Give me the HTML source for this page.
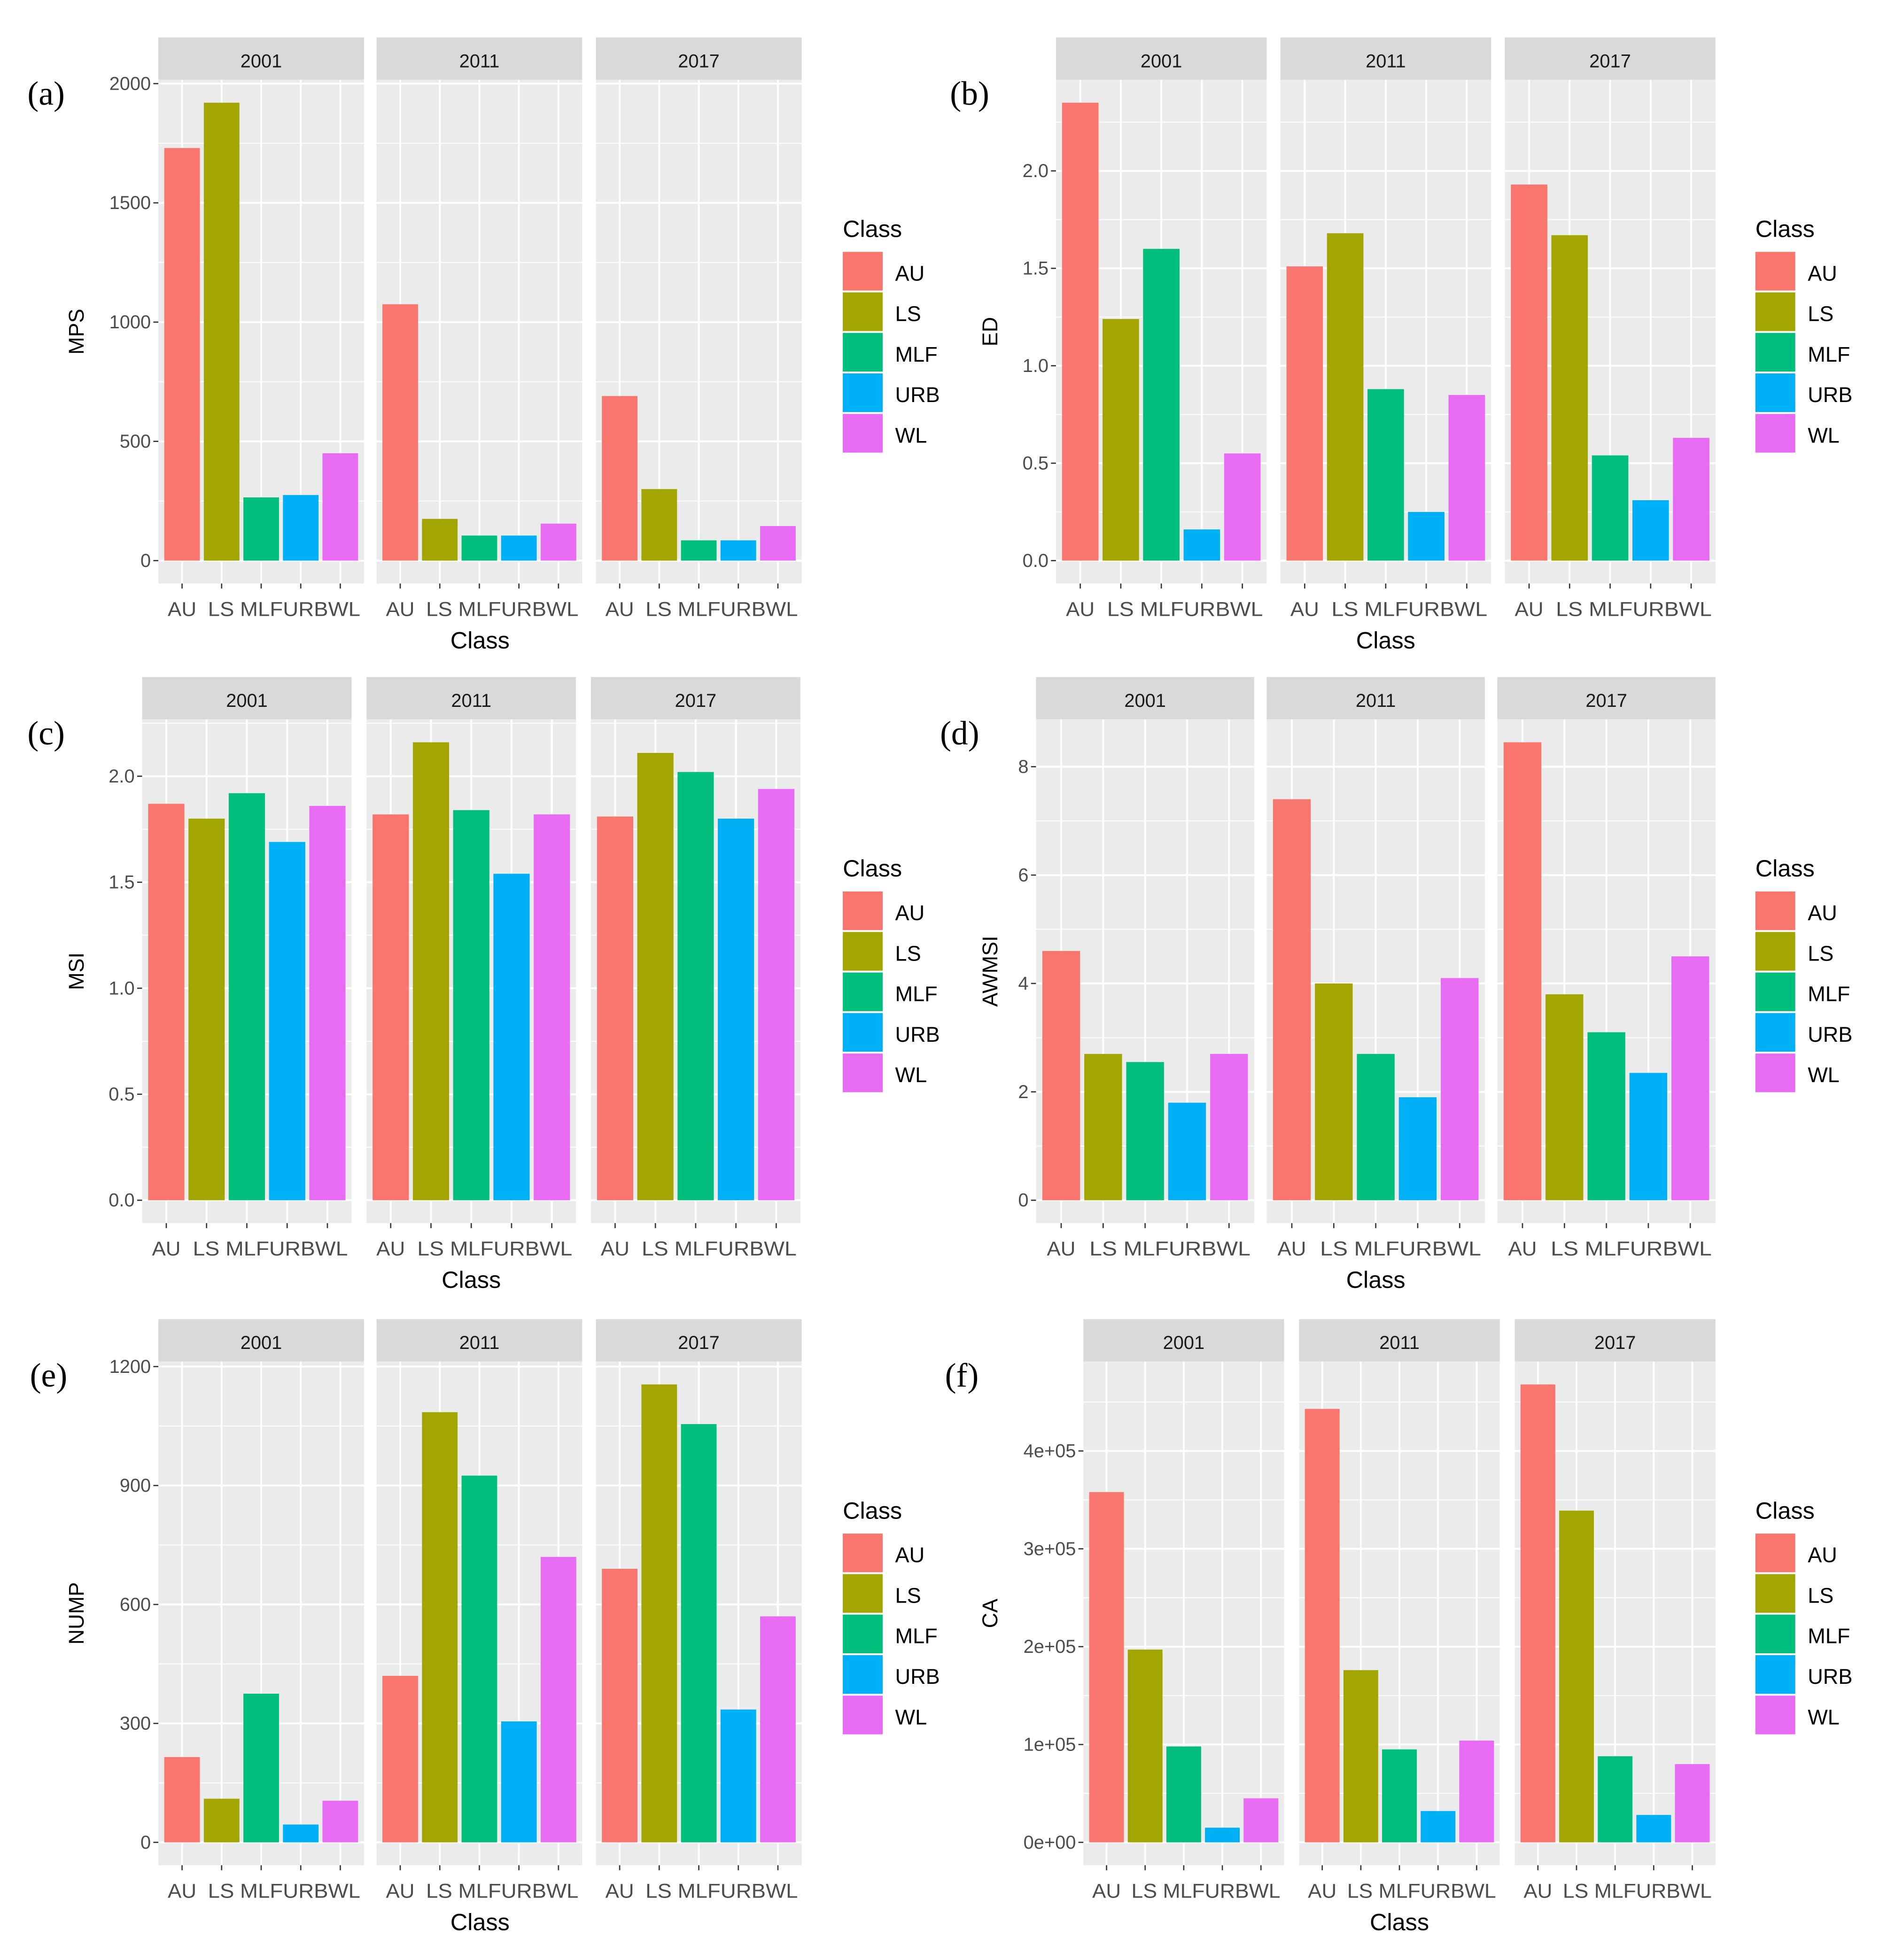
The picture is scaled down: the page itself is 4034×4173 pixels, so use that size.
<!DOCTYPE html>
<html><head><meta charset="utf-8"><style>
html,body{margin:0;padding:0;background:#fff;}
svg{display:block;}
text{font-family:"Liberation Sans",sans-serif;}
text.serif{font-family:"Liberation Serif",serif;}
</style></head><body>
<svg id="chart" width="4034" height="4173" viewBox="0 0 1520 1572" preserveAspectRatio="none" xmlns="http://www.w3.org/2000/svg"></svg>
<script>
const categories = ["AU","LS","MLF","URB","WL"];
const years = ["2001","2011","2017"];
const colors = ["#F8766D","#A3A500","#00BF7D","#00B0F6","#E76BF3"];
// values by year for each metric
const mpsValues = [[1730,1920,265,275,450],[1075,175,105,105,155],[690,300,85,85,145]];
const edValues = [[2.35,1.24,1.60,0.16,0.55],[1.51,1.68,0.88,0.25,0.85],[1.93,1.67,0.54,0.31,0.63]];
const msiValues = [[1.87,1.80,1.92,1.69,1.86],[1.82,2.16,1.84,1.54,1.82],[1.81,2.11,2.02,1.80,1.94]];
const awmsiValues = [[4.6,2.7,2.55,1.8,2.7],[7.4,4.0,2.7,1.9,4.1],[8.45,3.8,3.1,2.35,4.5]];
const numpValues = [[215,110,375,45,105],[420,1085,925,305,720],[690,1155,1055,335,570]];
const caValues = [[358000,197000,98000,15000,45000],[443000,176000,95000,32000,104000],[468000,339000,88000,28000,80000]];
const mpsTicks = [0,500,1000,1500,2000];
const mpsTickLabels = ["0","500","1000","1500","2000"];
const edTicks = [0,0.5,1,1.5,2];
const edTickLabels = ["0.0","0.5","1.0","1.5","2.0"];
const msiTicks = [0,0.5,1,1.5,2];
const msiTickLabels = ["0.0","0.5","1.0","1.5","2.0"];
const awmsiTicks = [0,2,4,6,8];
const awmsiTickLabels = ["0","2","4","6","8"];
const numpTicks = [0,300,600,900,1200];
const numpTickLabels = ["0","300","600","900","1200"];
const caTicks = [0,100000,200000,300000,400000];
const caTickLabels = ["0e+00","1e+05","2e+05","3e+05","4e+05"];

const panels = [
 {id:"a",title:"MPS",vals:mpsValues,ticks:mpsTicks,tl:mpsTickLabels,max:1920,top:30,facX:[127,302,478],facW:165,letterX:22,titleX:65,legX:676},
 {id:"b",title:"ED",vals:edValues,ticks:edTicks,tl:edTickLabels,max:2.35,top:30,facX:[847,1027,1207],facW:169,letterX:762,titleX:798,legX:1408},
 {id:"c",title:"MSI",vals:msiValues,ticks:msiTicks,tl:msiTickLabels,max:2.16,top:543,facX:[114,294,474],facW:168,letterX:22,titleX:65,legX:676},
 {id:"d",title:"AWMSI",vals:awmsiValues,ticks:awmsiTicks,tl:awmsiTickLabels,max:8.45,top:543,facX:[831,1016,1201],facW:175,letterX:754,titleX:798,legX:1408},
 {id:"e",title:"NUMP",vals:numpValues,ticks:numpTicks,tl:numpTickLabels,max:1155,top:1058,facX:[127,302,478],facW:165,letterX:24,titleX:65,legX:676},
 {id:"f",title:"CA",vals:caValues,ticks:caTicks,tl:caTickLabels,max:468000,top:1058,facX:[869,1042,1215],facW:161,letterX:758,titleX:798,legX:1408}
];
const NS="http://www.w3.org/2000/svg";
const svg=document.getElementById('chart');
function mk(tag,attrs,parent,txt){const e=document.createElementNS(NS,tag);for(const k in attrs)e.setAttribute(k,attrs[k]);if(txt!==undefined)e.textContent=txt;(parent||svg).appendChild(e);return e;}

panels.forEach(p=>{
  const g=mk('g',{});
  
  
  const stripH=34, plotTop=p.top+stripH, plotBot=p.top+438;
  const innerH=plotBot-plotTop;
  const span=p.max*1.1;
  const y=v=>plotBot-(v+p.max*0.05)/span*innerH;
  const letter=mk('text',{class:'serif',x:p.letterX,y:p.top+54,'font-size':27,fill:'#000'},g,'('+p.id+')');
  
  
  const step=p.ticks[1]-p.ticks[0];
  p.vals.forEach((vals,fi)=>{
    const x0=p.facX[fi], W=p.facW, unit=W/5.2;
    const xc=i=>x0+(0.6+i)*unit;
    const strip=mk('rect',{x:x0,y:p.top,width:W,height:stripH,fill:'#D9D9D9'},g);
    
    
    const st=mk('text',{x:x0+W/2,y:p.top+24,'text-anchor':'middle','font-size':15,fill:'#1A1A1A'},g,years[fi]);
    
    
    const bg=mk('rect',{x:x0,y:plotTop,width:W,height:innerH,fill:'#EBEBEB'},g);
    
    
    for(let t=-step/2;t<=p.max*1.06;t+=step){const yy=y(t);if(yy>plotTop&&yy<plotBot){const l=mk('line',{x1:x0,x2:x0+W,y1:yy,y2:yy,stroke:'#fff','stroke-width':0.7},g);}}
    p.ticks.forEach(t=>{const yy=y(t);if(yy>=plotTop){const l=mk('line',{x1:x0,x2:x0+W,y1:yy,y2:yy,stroke:'#fff','stroke-width':1.5},g);}});
    categories.forEach((c,i)=>{const l=mk('line',{x1:xc(i),x2:xc(i),y1:plotTop,y2:plotBot,stroke:'#fff','stroke-width':1.5},g);});
    vals.forEach((v,i)=>{
      const b=mk('rect',{x:xc(i)-0.45*unit,y:y(v),width:0.9*unit,height:y(0)-y(v),fill:colors[i]},g);
      
      
      const tk=mk('line',{x1:xc(i),x2:xc(i),y1:plotBot,y2:plotBot+4,stroke:'#333','stroke-width':1},g);
      
      
    });
    const lx=[0,1,2,3,4].map(i=>xc(i));
    const xl=mk('text',{x:lx[0],y:plotBot+26,'text-anchor':'middle','font-size':16,fill:'#4D4D4D',textLength:23,lengthAdjust:'spacingAndGlyphs'},g,'AU');
     
    const xl2=mk('text',{x:lx[1]-11,y:plotBot+26,'font-size':16,fill:'#4D4D4D',textLength:W-(lx[1]-11-x0)-3,lengthAdjust:'spacingAndGlyphs'},g,'LS MLFURBWL');
     
  });
  const ax0=p.facX[0];
  p.ticks.forEach((t,i)=>{
    const yy=y(t);
    const tk=mk('line',{x1:ax0-4,x2:ax0,y1:yy,y2:yy,stroke:'#333','stroke-width':1},g);
     
    const tl=mk('text',{x:ax0-6,y:yy+5,'text-anchor':'end','font-size':15,fill:'#4D4D4D'},g,p.tl[i]);
     
  });
  const midY=(plotTop+plotBot)/2;
  const yt=mk('text',{x:p.titleX+2,y:midY,'text-anchor':'middle','font-size':17,fill:'#000',transform:`rotate(-90 ${p.titleX+2} ${midY})`},g,p.title);
   
  const xmid=(p.facX[0]+p.facX[2]+p.facW)/2;
  const xt=mk('text',{x:xmid,y:plotBot+52,'text-anchor':'middle','font-size':19,fill:'#000'},g,'Class');
   
  const lt=mk('text',{x:p.legX,y:p.top+160,'font-size':19,fill:'#000'},g,'Class');
   
  categories.forEach((c,i)=>{
    const ky=p.top+172+i*32.5;
    const k=mk('rect',{x:p.legX,y:ky,width:32,height:31,fill:colors[i]},g);
     
    const kt=mk('text',{x:p.legX+42,y:ky+23,'font-size':17,fill:'#000'},g,c);
     
  });
});
</script>
</body></html>
